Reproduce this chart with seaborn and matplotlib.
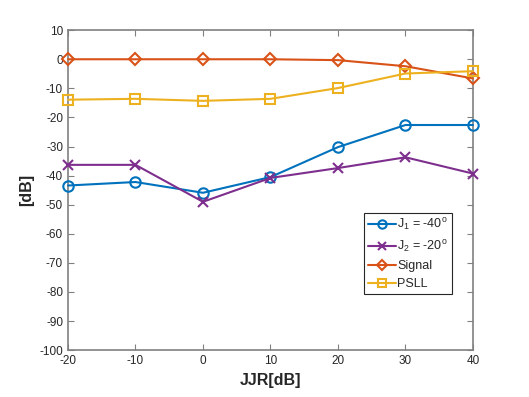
import pandas as pd
import seaborn as sns
import matplotlib.pyplot as plt

# Data
jjr = [-20, -10, 0, 10, 20, 30, 40]
j1 = [-43.4, -42.2, -45.9, -40.5, -30.2, -22.6, -22.6]
j2 = [-36.3, -36.3, -49.0, -40.8, -37.4, -33.7, -39.3]
signal = [0.0, 0.0, 0.0, 0.0, -0.3, -2.4, -6.6]
psll = [-13.9, -13.6, -14.3, -13.6, -9.9, -4.9, -4.1]

labels = ['J$_1$ = -40$^{\\rm o}$', 'J$_2$ = -20$^{\\rm o}$', 'Signal', 'PSLL']
series = [j1, j2, signal, psll]
colors = ['#0072BD', '#7E2F8E', '#D95319', '#EDB120']
markers = ['o', 'x', 'D', 's']
msizes = [7.5, 7.5, 6.5, 7]

sns.set_style('white')
plt.rcParams['font.family'] = ['Liberation Sans', 'DejaVu Sans']
plt.rcParams['mathtext.fontset'] = 'custom'
plt.rcParams['mathtext.rm'] = 'Liberation Sans'
plt.rcParams['mathtext.it'] = 'Liberation Sans'
plt.rcParams['axes.unicode_minus'] = False

fig = plt.figure(figsize=(5.29, 3.97), dpi=100)
ax = fig.add_axes([0.1285, 0.118, 0.7656, 0.806])

for vals, lab, c, m, ms in zip(series, labels, colors, markers, msizes):
    df = pd.DataFrame({'JJR': jjr, 'val': vals})
    sns.lineplot(data=df, x='JJR', y='val', ax=ax, color=c, marker=m,
                 markersize=ms, mfc='none', mec=c, mew=1.5, linewidth=1.5,
                 label=lab, clip_on=False, zorder=3)

ax.set_xlim(-20, 40)
ax.set_ylim(-100, 10)
ax.set_xticks(range(-20, 41, 10))
ax.set_yticks(range(-100, 11, 10))
ax.tick_params(direction='in', length=4, width=0.8, color='#808080',
               labelsize=8.5, labelcolor='#262626', top=True, right=True,
               bottom=True, left=True)
for sp in ax.spines.values():
    sp.set_color('#808080')
    sp.set_linewidth(1.2)

ax.set_xlabel('JJR[dB]', fontsize=11.5, fontweight='bold', color='#262626')
ax.set_ylabel('[dB]', fontsize=11.5, fontweight='bold', color='#262626')

leg = ax.legend(loc='upper left', bbox_to_anchor=(0.731, 0.43), fontsize=9,
                frameon=True, fancybox=False, framealpha=1, markerscale=0.8,
                handlelength=2.2, handletextpad=0.1, borderpad=0.35,
                labelspacing=0.45, borderaxespad=0)
leg.get_frame().set_edgecolor('#262626')
leg.get_frame().set_linewidth(0.8)

plt.savefig('out.png', dpi=100)
